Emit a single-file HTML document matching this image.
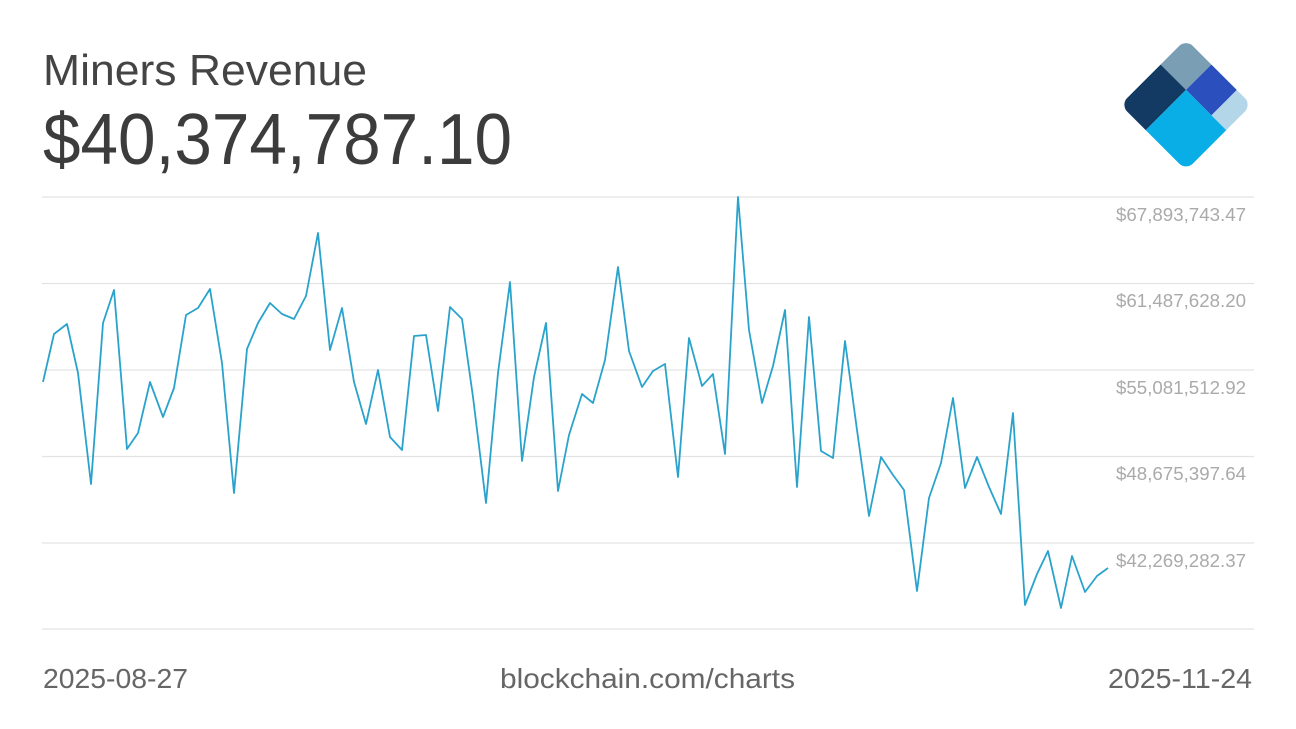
<!DOCTYPE html>
<html><head><meta charset="utf-8"><style>
html,body{margin:0;padding:0;background:#fff;width:1296px;height:729px;overflow:hidden}
svg{display:block}
text{font-family:"Liberation Sans",Arial,sans-serif}
</style></head><body>
<svg width="1296" height="729" viewBox="0 0 1296 729" xmlns="http://www.w3.org/2000/svg">
<text x="43" y="85" font-size="44" fill="#444" textLength="324" lengthAdjust="spacingAndGlyphs">Miners Revenue</text>
<text x="43" y="164" font-size="72" fill="#3c3c3c" textLength="469" lengthAdjust="spacingAndGlyphs">$40,374,787.10</text>
<defs><clipPath id="c"><rect x="0" y="0" width="93" height="93" rx="10"/></clipPath></defs>
<g transform="translate(1186,39) rotate(45)" clip-path="url(#c)">
<rect x="0" y="0" width="36" height="36" fill="#7a9fb5"/>
<rect x="36" y="0" width="36" height="36" fill="#2b50bd"/>
<rect x="72" y="0" width="21" height="36" fill="#b3d6e8"/>
<rect x="0" y="36" width="36" height="57" fill="#123a63"/>
<rect x="36" y="36" width="57" height="57" fill="#0aaee6"/>
</g>
<g stroke="#e3e3e3" stroke-width="1.2">
<line x1="42" y1="197" x2="1254" y2="197"/>
<line x1="42" y1="283.5" x2="1254" y2="283.5"/>
<line x1="42" y1="370" x2="1254" y2="370"/>
<line x1="42" y1="456.5" x2="1254" y2="456.5"/>
<line x1="42" y1="543" x2="1254" y2="543"/>
<line x1="42" y1="629" x2="1254" y2="629"/>
</g>
<g font-size="18" fill="#aaa" text-anchor="end">
<text x="1246" y="221" textLength="130" lengthAdjust="spacingAndGlyphs">$67,893,743.47</text>
<text x="1246" y="307" textLength="130" lengthAdjust="spacingAndGlyphs">$61,487,628.20</text>
<text x="1246" y="394" textLength="130" lengthAdjust="spacingAndGlyphs">$55,081,512.92</text>
<text x="1246" y="480" textLength="130" lengthAdjust="spacingAndGlyphs">$48,675,397.64</text>
<text x="1246" y="567" textLength="130" lengthAdjust="spacingAndGlyphs">$42,269,282.37</text>
</g>
<polyline fill="none" stroke="#2aa3cc" stroke-width="1.8" stroke-linejoin="round" points="43,382 54,334 67,324 78,373 91,484 103,323 114,290 127,449 138,433 150,382 163,417 174,388 186,315 198,308 210,289 222,363 234,493 247,349 258,323 270,303 282,314 294,319 306,296 318,233 330,350 342,308 354,382 366,424 378,370 390,437 402,450 414,336 426,335 438,411 450,307 462,319 473,397 486,503 498,373 510,282 522,461 534,377 546,323 558,491 569,435 582,394 593,403 605,360 618,267 629,351 642,387 653,371 665,364 678,477 689,338 702,386 713,374 725,454 738,197 749,330 762,403 773,366 785,310 797,487 809,317 821,451 833,458 845,341 857,430 869,516 881,457 893,475 904,490 917,591 929,498 941,463 953,398 965,488 977,457 989,487 1001,514 1013,413 1025,605 1037,574 1048,551 1061,608 1072,556 1085,592 1097,576 1108,568"/>
<g font-size="28" fill="#666">
<text x="43" y="688" textLength="145" lengthAdjust="spacingAndGlyphs">2025-08-27</text>
<text x="500" y="688" textLength="295" lengthAdjust="spacingAndGlyphs">blockchain.com/charts</text>
<text x="1108" y="688" textLength="144" lengthAdjust="spacingAndGlyphs">2025-11-24</text>
</g>
</svg>
</body></html>
